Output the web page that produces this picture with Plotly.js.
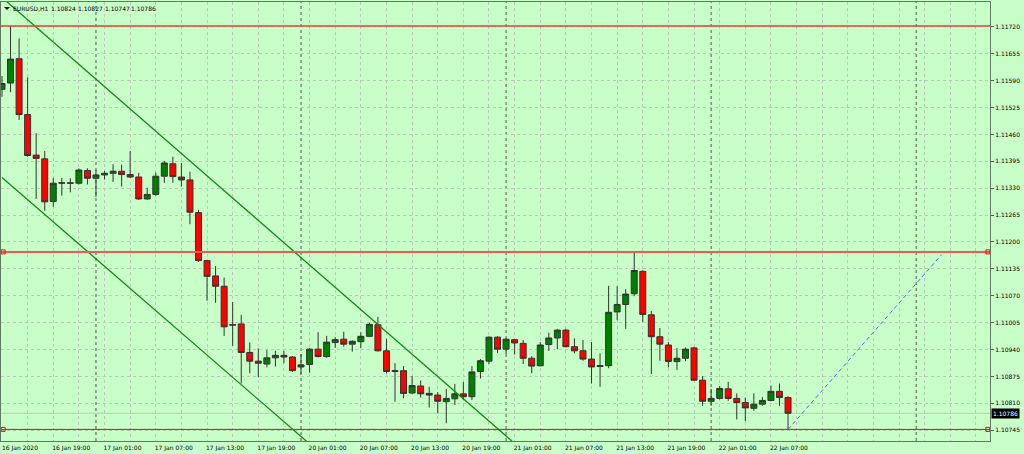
<!DOCTYPE html>
<html>
<head>
<meta charset="utf-8">
<script src="https://cdn.plot.ly/plotly-3.0.1.min.js"></script>
<style>
  html, body { margin: 0; padding: 0; background: #c8fec8; }
  #chart { width: 1024px; height: 454px; }
</style>
</head>
<body>
<div id="chart"></div>
<script>
// ---- trading sessions (date, first hour, last hour), H1 bars ----
const sessions = [
  ["2020-01-16", 13, 23],
  ["2020-01-17", 0, 23],
  ["2020-01-20", 0, 23],
  ["2020-01-21", 0, 23],
  ["2020-01-22", 0, 9]
];

// ---- OHLC values (EURUSD, H1) ----
const openP = [
  1.11569,1.11584,1.11643,1.11508,1.11410,1.11401,1.11298,1.11342,1.11343,1.11342,
  1.11373,1.11354,1.11362,1.11366,1.11371,1.11363,1.11357,1.11304,1.11315,1.11359,
  1.11389,1.11357,1.11350,1.11271,1.11155,1.11118,1.11093,1.10999,1.11002,1.10933,
  1.10912,1.10905,1.10920,1.10926,1.10922,1.10898,1.10904,1.10941,1.10923,1.10957,
  1.10965,1.10953,1.10959,1.10972,1.11000,1.10937,1.10887,1.10889,1.10835,1.10852,
  1.10834,1.10830,1.10814,1.10821,1.10833,1.10826,1.10887,1.10912,1.10970,1.10941,
  1.10964,1.10955,1.10919,1.10901,1.10952,1.10968,1.10987,1.10947,1.10937,1.10917,
  1.10899,1.10901,1.11031,1.11049,1.11075,1.11129,1.11024,1.10971,1.10951,1.10911,
  1.10919,1.10944,1.10866,1.10815,1.10822,1.10845,1.10822,1.10812,1.10798,1.10808,
  1.10817,1.10839,1.10824
];
const highP = [
  1.11601,1.11722,1.11692,1.11598,1.11463,1.11420,1.11355,1.11355,1.11354,1.11378,
  1.11378,1.11374,1.11372,1.11388,1.11387,1.11420,1.11367,1.11331,1.11368,1.11396,
  1.11406,1.11391,1.11370,1.11278,1.11157,1.11142,1.11114,1.11055,1.11024,1.10957,
  1.10943,1.10939,1.10937,1.10937,1.10924,1.10929,1.10944,1.10982,1.10973,1.10970,
  1.10983,1.10962,1.10982,1.11005,1.11019,1.10966,1.10907,1.10900,1.10876,1.10865,
  1.10850,1.10837,1.10845,1.10857,1.10862,1.10900,1.10917,1.10972,1.10972,1.10967,
  1.10966,1.10963,1.10924,1.10958,1.10981,1.10990,1.10990,1.10967,1.10963,1.10958,
  1.10931,1.11094,1.11093,1.11086,1.11176,1.11132,1.11033,1.10992,1.10958,1.10944,
  1.10945,1.10947,1.10876,1.10845,1.10852,1.10862,1.10834,1.10824,1.10834,1.10825,
  1.10853,1.10858,1.10827
];
const lowP = [
  1.11551,1.11562,1.11495,1.11406,1.11304,1.11275,1.11285,1.11312,1.11320,1.11339,
  1.11339,1.11309,1.11351,1.11345,1.11334,1.11355,1.11302,1.11302,1.11312,1.11343,
  1.11343,1.11334,1.11243,1.11152,1.11058,1.11053,1.10973,1.10949,1.10858,1.10883,
  1.10873,1.10897,1.10899,1.10907,1.10886,1.10881,1.10884,1.10921,1.10920,1.10944,
  1.10947,1.10935,1.10943,1.10970,1.10935,1.10882,1.10814,1.10822,1.10833,1.10824,
  1.10800,1.10786,1.10762,1.10806,1.10818,1.10818,1.10870,1.10905,1.10932,1.10929,
  1.10928,1.10905,1.10883,1.10899,1.10937,1.10941,1.10945,1.10931,1.10913,1.10858,
  1.10850,1.10895,1.11011,1.10990,1.11069,1.11007,1.10881,1.10913,1.10897,1.10891,
  1.10912,1.10864,1.10804,1.10804,1.10819,1.10816,1.10771,1.10767,1.10792,1.10804,
  1.10815,1.10804,1.10747
];
const closeP = [
  1.11583,1.11642,1.11508,1.11409,1.11402,1.11297,1.11342,1.11343,1.11342,1.11374,
  1.11354,1.11362,1.11366,1.11371,1.11363,1.11357,1.11304,1.11315,1.11359,1.11391,
  1.11358,1.11350,1.11272,1.11155,1.11117,1.11093,1.10995,1.11000,1.10933,1.10912,
  1.10907,1.10920,1.10926,1.10922,1.10889,1.10903,1.10941,1.10923,1.10958,1.10964,
  1.10953,1.10960,1.10972,1.11001,1.10937,1.10887,1.10889,1.10834,1.10853,1.10833,
  1.10830,1.10815,1.10822,1.10833,1.10826,1.10886,1.10913,1.10970,1.10941,1.10965,
  1.10956,1.10919,1.10900,1.10951,1.10968,1.10987,1.10947,1.10937,1.10917,1.10898,
  1.10901,1.11030,1.11049,1.11074,1.11131,1.11025,1.10971,1.10953,1.10911,1.10919,
  1.10941,1.10866,1.10815,1.10822,1.10846,1.10822,1.10812,1.10799,1.10808,1.10817,
  1.10839,1.10824,1.10786
];

// ---- time axis labels ----
const tickTimes = [
  "2020-01-16 13:00","2020-01-16 19:00","2020-01-17 01:00","2020-01-17 07:00",
  "2020-01-17 13:00","2020-01-17 19:00","2020-01-20 01:00","2020-01-20 07:00",
  "2020-01-20 13:00","2020-01-20 19:00","2020-01-21 01:00","2020-01-21 07:00",
  "2020-01-21 13:00","2020-01-21 19:00","2020-01-22 01:00","2020-01-22 07:00"
];
const tickLabels = [
  "16 Jan 2020","16 Jan 19:00","17 Jan 01:00","17 Jan 07:00",
  "17 Jan 13:00","17 Jan 19:00","20 Jan 01:00","20 Jan 07:00",
  "20 Jan 13:00","20 Jan 19:00","21 Jan 01:00","21 Jan 07:00",
  "21 Jan 13:00","21 Jan 19:00","22 Jan 01:00","22 Jan 07:00"
];

// ---- period separators (midnight) ----
const separators = ["2020-01-17 00:00","2020-01-20 00:00","2020-01-21 00:00","2020-01-22 00:00","2020-01-23 00:00"];

// ---- drawn objects ----
const hLines = [1.11722, 1.11176, 1.10747];
const channelUpper = { t: ["2020-01-16 13:00", "2020-01-21 01:00"], p: [1.11791, 1.10713] };
const channelLower = { t: ["2020-01-16 13:00", "2020-01-20 01:00"], p: [1.11356, 1.10712] };
const blueRay = { t: ["2020-01-22 09:00", "2020-01-23 03:00"], p: [1.10747, 1.11170] };
const bidPrice = 1.10786;
const headerSymbol = "EURUSD,H1";
const headerOHLC = ["1.10824", "1.10827", "1.10747", "1.10786"];

// ---- build bar index from sessions ----
const pad = n => (n < 10 ? "0" : "") + n;
const times = [];
sessions.forEach(([d, a, b]) => { for (let h = a; h <= b; h++) times.push(d + " " + pad(h) + ":00"); });
const lastTime = new Date(times[times.length - 1].replace(" ", "T") + ":00Z");
function idx(t) {
  const k = times.indexOf(t);
  if (k >= 0) return k;
  const dt = new Date(t.replace(" ", "T") + ":00Z");
  return times.length - 1 + Math.round((dt - lastTime) / 3600000);
}
const xs = times.map((t, i) => i);

const xRange = [-0.117, 115.64];
const yRange = [1.10719, 1.11780];

// grid every 3 bars, labels every 6
const gridVals = [], gridText = [];
const labelIdx = tickTimes.map(idx);
for (let v = 0; v <= xRange[1]; v += 3) {
  gridVals.push(v);
  const k = labelIdx.indexOf(v);
  gridText.push(k >= 0 ? tickLabels[k] : "");
}

const FONT = "DejaVu Sans";
const GRID = "#b6cab6";
const traces = [
  {
    type: "candlestick", x: xs, open: openP, high: highP, low: lowP, close: closeP,
    increasing: { line: { color: "#333333", width: 1 }, fillcolor: "#008000" },
    decreasing: { line: { color: "#333333", width: 1 }, fillcolor: "#ff0000" },
    whiskerwidth: 0, hoverinfo: "skip", showlegend: false
  },
  {
    type: "scatter", mode: "lines", x: channelUpper.t.map(idx), y: channelUpper.p,
    line: { color: "#108a10", width: 1.3 }, hoverinfo: "skip", showlegend: false
  },
  {
    type: "scatter", mode: "lines", x: channelLower.t.map(idx), y: channelLower.p,
    line: { color: "#108a10", width: 1.3 }, hoverinfo: "skip", showlegend: false
  },
  {
    type: "scatter", mode: "lines", x: blueRay.t.map(idx), y: blueRay.p,
    line: { color: "#4a6ee8", width: 1, dash: "4px,3px" }, hoverinfo: "skip", showlegend: false
  }
];
const redStyles = [
  { color: "#e8403a", width: 1.3, ends: false },
  { color: "#ef5a52", width: 2, ends: true },
  { color: "#ff0000", width: 1, ends: true }
];
hLines.forEach((p, k) => {
  traces.push({
    type: "scatter", mode: "lines", x: xRange, y: [p, p],
    line: { color: redStyles[k].color, width: redStyles[k].width }, hoverinfo: "skip", showlegend: false
  });
  if (redStyles[k].ends) {
    traces.push({
      type: "scatter", mode: "markers", x: [xRange[0] + 0.25, xRange[1] - 0.25], y: [p, p],
      marker: { symbol: "square-open", size: 4, color: "#ff0000", line: { width: 1, color: "#ff0000" } },
      cliponaxis: false, hoverinfo: "skip", showlegend: false
    });
  }
});

const shapes = separators.map(t => ({
  type: "line", xref: "x", yref: "paper", x0: idx(t), x1: idx(t), y0: 0, y1: 1,
  line: { color: "#505a50", width: 1, dash: "dot" }, layer: "below"
}));
shapes.push({
  type: "line", xref: "paper", yref: "y", x0: 0, x1: 1, y0: bidPrice, y1: bidPrice,
  line: { color: "#c2c8c2", width: 1 }, layer: "below"
});
// small header triangle
shapes.push({
  type: "path", xref: "paper", yref: "paper", xsizemode: "pixel", ysizemode: "pixel",
  xanchor: 0, yanchor: 1, path: "M 3 -5 L 9 -5 L 6 -8 Z",
  fillcolor: "#000", line: { width: 0 }, layer: "above"
});

const headerAnnots = [headerSymbol].concat(headerOHLC).map((s, k) => ({
  xref: "paper", yref: "paper", x: 0, y: 1, xanchor: "left", yanchor: "top",
  xshift: k === 0 ? 10 : 48 + (k - 1) * 26.8, yshift: -1, showarrow: false, align: "left",
  text: s, font: { family: FONT, size: 6, color: "#000" }
}));

const layout = {
  width: 1024, height: 454,
  margin: { l: 1, r: 34, t: 2, b: 13, pad: 0 },
  paper_bgcolor: "#c8fec8", plot_bgcolor: "#c8fec8",
  font: { family: FONT, size: 6, color: "#000" },
  showlegend: false, hovermode: false,
  boxgap: 0.3, boxgroupgap: 0,
  xaxis: {
    range: xRange, rangeslider: { visible: false }, fixedrange: true,
    tickmode: "array", tickvals: gridVals, ticktext: gridText,
    ticks: "", ticklabelshift: 18, ticklabelstandoff: 1,
    showgrid: true, gridcolor: GRID, griddash: "dot", gridwidth: 1,
    showline: true, mirror: true, linecolor: "#5f7a5f", linewidth: 1,
    zeroline: false, tickfont: { family: FONT, size: 6, color: "#000" }
  },
  yaxis: {
    range: yRange, side: "right", fixedrange: true,
    tickmode: "linear", tick0: 1.10745, dtick: 0.00065, tickformat: ".5f",
    ticks: "outside", ticklen: 3, tickcolor: "#4a5a4a",
    showgrid: true, gridcolor: GRID, griddash: "dot", gridwidth: 1,
    showline: true, mirror: true, linecolor: "#5f7a5f", linewidth: 1,
    zeroline: false, tickfont: { family: FONT, size: 6, color: "#000" }
  },
  shapes: shapes,
  annotations: headerAnnots.concat([
    {
      xref: "paper", yref: "y", x: 1, y: bidPrice, xanchor: "left", yanchor: "middle",
      xshift: 1, showarrow: false, text: bidPrice.toFixed(5),
      bgcolor: "#000", borderpad: 1, font: { family: FONT, size: 6, color: "#fff" }
    }
  ])
};

Plotly.newPlot("chart", traces, layout, { staticPlot: true, displayModeBar: false });
</script>
</body>
</html>
